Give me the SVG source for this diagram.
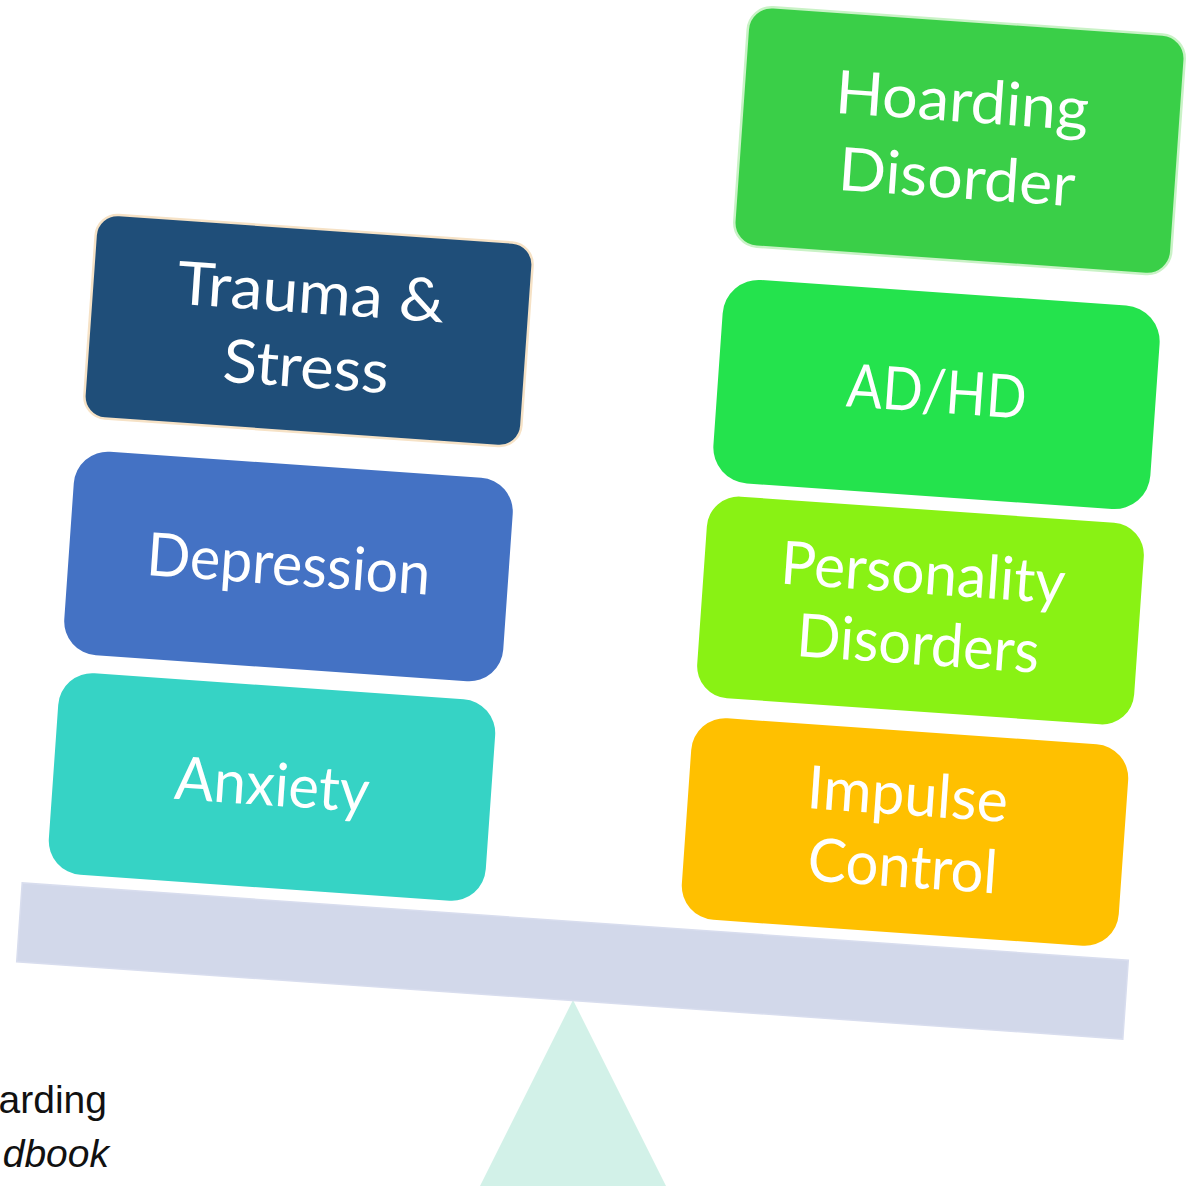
<svg xmlns="http://www.w3.org/2000/svg" width="1186" height="1186" viewBox="0 0 1186 1186">
  <defs>
    <style>
      .box-label { font-family: "Lato", "Liberation Sans", sans-serif; font-size: 60px; fill: #ffffff; text-anchor: middle; }
      .caption { font-family: "Liberation Sans", "DejaVu Sans", sans-serif; font-size: 39px; fill: #111111; text-anchor: end; }
    </style>
  </defs>

  <rect width="1186" height="1186" fill="#ffffff"/>

  <!-- fulcrum -->
  <polygon id="fulcrum" points="573,1000 470,1206 676,1206" fill="#d2f1e8"/>

  <!-- tilted beam -->
  <rect id="beam" x="18.1" y="921.5" width="1108.8" height="79" fill="#d2d8ea" stroke="#d8ddee" stroke-width="1.5" transform="rotate(4 572.5 961)"/>

  <!-- partial caption at lower left -->
  <g id="caption">
    <text class="caption" x="107" y="1113">arding</text>
    <text class="caption" x="109" y="1167" font-style="italic">dbook</text>
  </g>

  <!-- left pan -->
  <g id="node-trauma" transform="translate(308.5 330.5) rotate(4)">
    <rect x="-219" y="-102" width="438" height="204" rx="22" fill="#1f4e79" stroke="#f6e2c6" stroke-width="2.5"/>
    <text class="box-label" y="-17.5" textLength="268" lengthAdjust="spacingAndGlyphs">Trauma &amp;</text>
    <text class="box-label" y="57" textLength="166" lengthAdjust="spacingAndGlyphs">Stress</text>
  </g>

  <g id="node-depression" transform="translate(288.5 566.5) rotate(4)">
    <rect x="-220" y="-102" width="440" height="204" rx="34" fill="#4472c4"/>
    <text class="box-label" y="18.5" textLength="284" lengthAdjust="spacingAndGlyphs">Depression</text>
  </g>

  <g id="node-anxiety" transform="translate(272 787) rotate(4)">
    <rect x="-219" y="-101" width="438" height="202" rx="34" fill="#36d3c5"/>
    <text class="box-label" y="18.5" textLength="195" lengthAdjust="spacingAndGlyphs">Anxiety</text>
  </g>

  <!-- right pan -->
  <g id="node-hoarding" transform="translate(959.5 140.6) rotate(4)">
    <rect x="-219" y="-120" width="438" height="240" rx="24" fill="#3acf48" stroke="#c9f2c6" stroke-width="2.5"/>
    <text class="box-label" y="-19" textLength="254" lengthAdjust="spacingAndGlyphs">Hoarding</text>
    <text class="box-label" y="57.5" textLength="237" lengthAdjust="spacingAndGlyphs">Disorder</text>
  </g>

  <g id="node-adhd" transform="translate(936.5 394.5) rotate(4)">
    <rect x="-219" y="-102" width="438" height="204" rx="36" fill="#24e34d"/>
    <text class="box-label" y="18" textLength="180" lengthAdjust="spacingAndGlyphs">AD/HD</text>
  </g>

  <g id="node-personality" transform="translate(920.5 610.5) rotate(4)">
    <rect x="-219" y="-101" width="438" height="202" rx="32" fill="#89f214"/>
    <text class="box-label" y="-17" textLength="285" lengthAdjust="spacingAndGlyphs">Personality</text>
    <text class="box-label" y="54" textLength="243" lengthAdjust="spacingAndGlyphs">Disorders</text>
  </g>

  <g id="node-impulse" transform="translate(905 832) rotate(4)">
    <rect x="-219" y="-101" width="438" height="202" rx="34" fill="#ffc000"/>
    <text class="box-label" y="-17" textLength="201" lengthAdjust="spacingAndGlyphs">Impulse</text>
    <text class="box-label" y="55" textLength="190" lengthAdjust="spacingAndGlyphs">Control</text>
  </g>
</svg>
